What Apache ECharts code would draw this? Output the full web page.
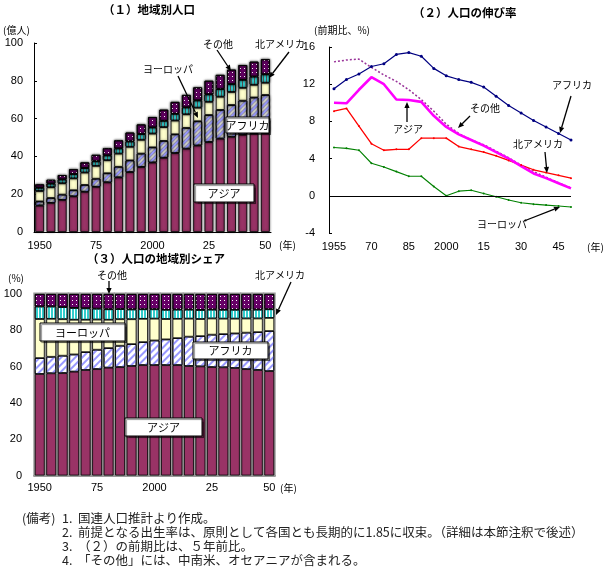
<!DOCTYPE html>
<html>
<head>
<meta charset="utf-8">
<script src="https://cdn.jsdelivr.net/npm/echarts@6/dist/echarts.min.js"></script>
<style>
  html, body { margin: 0; padding: 0; background: #fff; }
  #main { width: 606px; height: 569px; }
</style>
</head>
<body>
<div id="main"></div>
<script>
// categories (5-year steps)
const years = ['1950','1955','1960','1965','1970','1975','1980','1985','1990','1995','2000',
  '2005','2010','2015','2020','2025','2030','2035','2040','2045','2050'];

// (1) population by region, 億人
const popAsia   = [14.0, 15.4, 17.0, 18.9, 21.3, 23.9, 26.3, 28.9, 31.7, 34.4, 36.8, 39.3, 41.8, 44.1, 45.8, 47.6, 49.4, 50.4, 51.5, 52.2, 52.5];
const popAfrica = [2.2, 2.6, 2.8, 3.2, 3.6, 4.3, 4.8, 5.6, 6.2, 7.1, 8.0, 8.9, 9.9, 11.0, 12.8, 14.3, 15.2, 16.8, 18.0, 19.0, 20.0];
const popEurope = [5.5, 5.7, 6.0, 6.3, 6.6, 6.8, 6.9, 7.0, 7.2, 7.3, 7.3, 7.3, 7.3, 7.2, 7.2, 7.0, 7.0, 6.9, 6.8, 6.7, 6.5];
const popNA     = [1.7, 1.9, 2.0, 2.2, 2.3, 2.4, 2.5, 2.7, 2.8, 3.0, 3.2, 3.3, 3.5, 3.6, 3.8, 3.9, 4.0, 4.1, 4.2, 4.3, 4.4];
const popOther  = [1.8, 2.0, 2.3, 2.6, 3.0, 3.4, 3.8, 4.3, 4.7, 5.1, 5.5, 5.9, 6.3, 6.6, 6.9, 7.2, 7.5, 7.7, 7.8, 7.9, 8.0];

// (2) growth rate vs 5 years before, %
const rateYears  = [1955, 1960, 1965, 1970, 1975, 1980, 1985, 1990, 1995, 2000, 2005, 2010, 2015, 2020, 2025, 2030, 2035, 2040, 2045, 2050];
const rateAfrica = [11.5, 12.5, 13.1, 13.9, 14.2, 15.2, 15.4, 15.0, 13.7, 12.9, 12.5, 12.2, 11.7, 10.7, 9.7, 8.9, 8.1, 7.4, 6.7, 6.0];
const rateAsia   = [10.0, 9.95, 11.4, 12.75, 12.0, 10.35, 10.3, 10.1, 8.6, 7.4, 6.6, 6.0, 5.4, 4.7, 4.0, 3.2, 2.4, 1.9, 1.35, 0.8];
const rateOther  = [14.4, 14.6, 14.7, 13.8, 13.0, 12.3, 11.4, 10.35, 9.1, 7.7, 6.7, 6.0, 5.5, 4.8, 4.1, 3.3, 2.6, 2.0, 1.4, 0.85];
const rateNA     = [9.1, 9.4, 7.5, 5.6, 4.9, 5.0, 5.0, 6.2, 6.2, 6.2, 5.3, 5.0, 4.7, 4.3, 3.8, 3.3, 2.8, 2.5, 2.2, 1.9];
const rateEurope = [5.2, 5.1, 4.9, 3.5, 3.1, 2.6, 2.1, 2.1, 1.0, 0.0, 0.5, 0.6, 0.25, -0.1, -0.45, -0.75, -0.9, -1.0, -1.1, -1.2];

// (3) share by region, %
const shareAsia   = [55.9, 56.3, 56.4, 57.2, 58.1, 58.6, 59.4, 59.7, 60.3, 60.8, 60.8, 60.8, 60.8, 60.3, 60.1, 59.7, 59.6, 59.2, 58.6, 58.1, 57.5];
const shareAfrica = [8.8, 9.1, 9.6, 9.5, 9.9, 10.7, 10.8, 11.8, 12.1, 12.7, 13.6, 14.2, 14.9, 16.2, 16.7, 17.9, 18.3, 19.1, 20.1, 20.9, 22.1];
const shareEurope = [21.5, 20.9, 20.1, 19.1, 17.8, 16.6, 15.6, 14.6, 13.7, 12.8, 12.0, 11.2, 10.6, 9.9, 9.4, 8.9, 8.5, 8.1, 7.8, 7.5, 7.2];
const shareNA     = [6.9, 6.8, 6.7, 6.5, 6.3, 6.0, 5.8, 5.6, 5.4, 5.3, 5.2, 5.1, 5.1, 5.0, 5.0, 4.9, 4.9, 4.9, 4.9, 4.9, 4.8];
const shareOther  = [6.9, 6.9, 7.2, 7.7, 7.9, 8.1, 8.4, 8.3, 8.5, 8.4, 8.4, 8.7, 8.6, 8.6, 8.8, 8.6, 8.7, 8.7, 8.6, 8.6, 8.4];

const rateTicks = [1955, 1970, 1985, 2000, 2015, 2030, 2045];

const FONT = '"Noto Sans CJK JP", sans-serif';
const NUMFONT = '"Liberation Sans", Arial, sans-serif';

var chartDom = document.getElementById('main');
var myChart = echarts.init(chartDom);

// patterns
const africaDecal = { symbol: 'rect', symbolSize: 1, color: '#9999ff', dashArrayX: [1, 0], dashArrayY: [2, 3], rotation: -Math.PI / 4 };
const naDecal = { symbol: 'rect', symbolSize: 1, color: '#33cccc', dashArrayX: [2, 1], dashArrayY: [1, 0], rotation: 0 };
const otherDecal = { symbol: 'rect', symbolSize: 1, color: '#ffffff', dashArrayX: [1, 3], dashArrayY: [1, 3], rotation: 0 };

function yearLabel(v) {
  v = String(v);
  return (v === '1950' || v === '2000' || v === '1955') ? v : v.slice(2);
}

function barSeries(name, data, idx, color, decal, extra) {
  var s = {
    name: name,
    type: 'bar',
    xAxisIndex: idx,
    yAxisIndex: idx,
    stack: 'p' + idx,
    data: data,
    barCategoryGap: idx === 0 ? '22%' : '14%',
    itemStyle: {
      color: color,
      borderColor: '#000',
      borderWidth: 0.8,
      decal: decal
    },
    silent: true,
    animation: false
  };
  if (idx === 0) {
    s.itemStyle.shadowColor = 'rgba(0,0,0,0.6)';
    s.itemStyle.shadowBlur = 2.5;
  }
  return Object.assign(s, extra || {});
}

function lineSeries(name, data, color, width, type, symbolSize) {
  return {
    name: name,
    type: 'line',
    xAxisIndex: 1,
    yAxisIndex: 1,
    data: rateYears.map((y, i) => [y, data[i]]),
    symbol: symbolSize ? 'circle' : 'none',
    symbolSize: symbolSize || 0,
    itemStyle: { color: color },
    lineStyle: { color: color, width: width, type: type },
    silent: true,
    animation: false
  };
}

function txt(x, y, s, opt) {
  return {
    type: 'text', x: x, y: y, z: 100,
    style: Object.assign({ text: s, font: '11px ' + FONT, fill: '#000', verticalAlign: 'middle' }, opt || {})
  };
}

function arrow(x1, y1, x2, y2) {
  var a = Math.atan2(y2 - y1, x2 - x1), L = 6, W = 2.6;
  var bx = x2 - L * Math.cos(a), by = y2 - L * Math.sin(a);
  return [
    { type: 'line', z: 100, shape: { x1: x1, y1: y1, x2: bx, y2: by }, style: { stroke: '#000', lineWidth: 1.3 } },
    { type: 'polygon', z: 100, shape: { points: [[x2, y2], [bx + W * Math.sin(a), by - W * Math.cos(a)], [bx - W * Math.sin(a), by + W * Math.cos(a)]] }, style: { fill: '#000' } }
  ];
}

function box(x, y, w, h, s) {
  return [
    { type: 'rect', z: 100, shape: { x: x, y: y, width: w, height: h },
      style: { fill: '#fff', stroke: '#000', lineWidth: 1, shadowColor: 'rgba(0,0,0,0.45)', shadowOffsetX: 1.5, shadowOffsetY: 1.5, shadowBlur: 1 } },
    txt(x + w / 2, y + h / 2 + 0.5, s, { align: 'center' })
  ];
}

const numStyle = { fontFamily: NUMFONT, fontSize: 11, color: '#000' };
const small = { font: '10px ' + FONT };
const noteFont = { font: '12.5px ' + FONT, fill: '#222' };

var graphics = [].concat(
  // titles and units
  txt(103, 10, '（１）地域別人口', { font: 'bold 11.5px ' + FONT }),
  txt(413, 13, '（２）人口の伸び率', { font: 'bold 11.5px ' + FONT }),
  txt(87, 259, '（３）人口の地域別シェア', { font: 'bold 11.5px ' + FONT }),
  txt(3, 30, '(億人)', small),
  txt(314, 30, '(前期比、%)', small),
  txt(8, 278, '(%)', small),
  txt(279, 245, '(年)', small),
  txt(587, 247, '(年)', small),
  txt(280, 488, '(年)', small),

  // (1) annotations
  txt(143, 69, 'ヨーロッパ', small),
  arrow(178, 76, 198, 118),
  txt(203, 44, 'その他', small),
  arrow(217, 50, 231, 71),
  txt(255, 44, '北アメリカ', small),
  arrow(289, 52, 269, 78),
  box(226, 117, 43, 16, 'アフリカ'),
  box(194, 184, 60, 18, 'アジア'),

  // (2) annotations
  txt(552, 85, 'アフリカ', small),
  arrow(571, 96, 560, 133),
  txt(470, 108, 'その他', small),
  arrow(470, 116, 458, 128),
  txt(393, 129, 'アジア', small),
  arrow(407, 122, 407, 102),
  txt(513, 144, '北アメリカ', small),
  arrow(545, 152, 547, 173),
  txt(477, 224, 'ヨーロッパ', small),
  arrow(524, 221, 560, 207),

  // (3) annotations
  txt(97, 275, 'その他', small),
  arrow(109, 281, 109, 294),
  txt(255, 275, '北アメリカ', small),
  arrow(291, 282, 276, 315),
  box(40, 323, 85, 18, 'ヨーロッパ'),
  box(193, 342, 75, 17, 'アフリカ'),
  box(125, 418, 77, 18, 'アジア'),

  // notes
  txt(22, 518, '(備考)', noteFont),
  txt(62, 518, '1.', noteFont),
  txt(78, 518, '国連人口推計より作成。', noteFont),
  txt(62, 532, '2.', noteFont),
  txt(78, 532, '前提となる出生率は、原則として各国とも長期的に1.85に収束。（詳細は本節注釈で後述）', noteFont),
  txt(62, 546, '3.', noteFont),
  txt(78, 546, '（２）の前期比は、５年前比。', noteFont),
  txt(62, 560, '4.', noteFont),
  txt(78, 560, '「その他」には、中南米、オセアニアが含まれる。', noteFont)
);

var option = {
  animation: false,
  grid: [
    { left: 34, top: 43, width: 237, height: 189 },
    { left: 329, top: 47, width: 242, height: 186 },
    { left: 34, top: 294, width: 241, height: 181.5 }
  ],
  xAxis: [
    {
      type: 'category', gridIndex: 0, data: years,
      axisLine: { lineStyle: { color: '#000' } },
      axisTick: { show: false },
      axisLabel: Object.assign({ interval: 4, margin: 8, formatter: yearLabel }, numStyle)
    },
    {
      type: 'value', gridIndex: 1, min: 1953, max: 2050,
      axisLine: { show: false },
      axisTick: { show: false },
      splitLine: { show: false },
      axisLabel: Object.assign({ customValues: rateTicks, margin: 8, formatter: yearLabel }, numStyle)
    },
    {
      type: 'category', gridIndex: 2, data: years,
      axisLine: { lineStyle: { color: '#000' } },
      axisTick: { show: false },
      axisLabel: Object.assign({ interval: 4, margin: 7, formatter: yearLabel }, numStyle)
    }
  ],
  yAxis: [
    {
      type: 'value', gridIndex: 0, min: 0, max: 100, interval: 20,
      axisLine: { show: true, lineStyle: { color: '#000' } },
      axisTick: { show: true, inside: true, length: 3, lineStyle: { color: '#000' } },
      splitLine: { show: false },
      axisLabel: Object.assign({ margin: 11 }, numStyle)
    },
    {
      type: 'value', gridIndex: 1, min: -4, max: 16, interval: 4,
      axisLine: { show: true, onZero: false, lineStyle: { color: '#000' } },
      axisTick: { show: true, inside: true, length: 3, lineStyle: { color: '#000' } },
      splitLine: { show: false },
      axisLabel: Object.assign({ margin: 14 }, numStyle)
    },
    {
      type: 'value', gridIndex: 2, min: 0, max: 100, interval: 20,
      axisLine: { show: true, lineStyle: { color: '#000' } },
      axisTick: { show: true, inside: true, length: 3, lineStyle: { color: '#000' } },
      splitLine: { show: false },
      axisLabel: Object.assign({ margin: 12 }, numStyle)
    }
  ],
  series: [
    barSeries('アジア', popAsia, 0, '#993366', null),
    barSeries('アフリカ', popAfrica, 0, '#ffffff', africaDecal),
    barSeries('ヨーロッパ', popEurope, 0, '#ffffcc', null),
    barSeries('北アメリカ', popNA, 0, '#ffffff', naDecal),
    barSeries('その他', popOther, 0, '#660066', otherDecal),

    lineSeries('その他', rateOther, '#993399', 1.5, [2, 2], 0),
    lineSeries('アフリカ', rateAfrica, '#000080', 1.2, 'solid', 3),
    lineSeries('北アメリカ', rateNA, '#ff0000', 1.3, 'solid', 2),
    lineSeries('アジア', rateAsia, '#ff00ff', 2.6, 'solid', 0),
    Object.assign(lineSeries('ヨーロッパ', rateEurope, '#008000', 1.1, 'solid', 2), {
      markLine: {
        silent: true, symbol: 'none', label: { show: false },
        lineStyle: { color: '#000', type: 'solid', width: 1 },
        data: [{ yAxis: 0 }]
      }
    }),

    barSeries('アジア', shareAsia, 2, '#993366', null, {
      showBackground: true,
      backgroundStyle: { color: 'rgba(0,0,0,0)', borderColor: '#999', borderWidth: 3 }
    }),
    barSeries('アフリカ', shareAfrica, 2, '#ffffff', africaDecal),
    barSeries('ヨーロッパ', shareEurope, 2, '#ffffcc', null),
    barSeries('北アメリカ', shareNA, 2, '#ffffff', naDecal),
    barSeries('その他', shareOther, 2, '#660066', otherDecal)
  ],
  graphic: graphics
};

option && myChart.setOption(option);
</script>
</body>
</html>
